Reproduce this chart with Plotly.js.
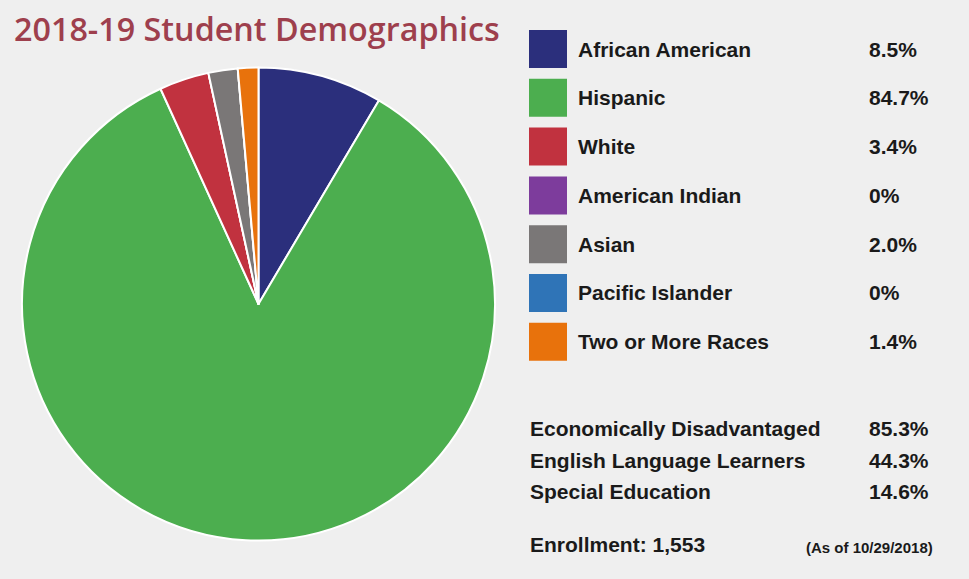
<!DOCTYPE html>
<html>
<head>
<meta charset="utf-8">
<script src="https://cdn.plot.ly/plotly-3.0.1.min.js"></script>
<style>
html,body{margin:0;padding:0;background:#efefef;}
#chart{width:969px;height:579px;}
</style>
</head>
<body>
<div id="chart"></div>
<script>
const title = "2018-19 Student Demographics";
const groups = ["African American", "Hispanic", "White", "American Indian", "Asian", "Pacific Islander", "Two or More Races"];
const shares = [8.5, 84.7, 3.4, 0, 2.0, 0, 1.4];
const colors = ["#2b2f7c", "#4cae4f", "#c1323f", "#7d3c9c", "#7a7777", "#2f74b7", "#e8720c"];
const otherLabels = ["Economically Disadvantaged", "English Language Learners", "Special Education"];
const otherValues = [85.3, 44.3, 14.6];
const enrollment = "1,553";
const asOf = "(As of 10/29/2018)";

const W = 969, H = 579;
const px = x => x / W;
const py = y => 1 - y / H;
const fmt = v => v === 0 ? "0%" : v.toFixed(1) + "%";
const textFont = {family: "Liberation Sans, Arial, sans-serif", size: 21, color: "#1a1a1a"};

const trace = {
  type: "pie",
  labels: groups,
  values: shares,
  marker: {colors: colors, line: {color: "#ffffff", width: 2}},
  sort: false,
  direction: "clockwise",
  rotation: 0,
  textinfo: "none",
  hoverinfo: "none",
  showlegend: false,
  domain: {x: [px(22), px(495)], y: [py(541), py(67)]}
};

const annotations = [];
const shapes = [];
annotations.push({
  xref: "paper", yref: "paper", x: px(12), y: py(28), xanchor: "left", yanchor: "middle",
  text: title, showarrow: false,
  font: {family: "Open Sans, sans-serif", size: 32.3, weight: 600, color: "#9e3f4d"}
});
const rowY0 = 49, rowStep = 48.8;
groups.forEach((g, i) => {
  const cy = rowY0 + i * rowStep;
  shapes.push({
    type: "rect", xref: "paper", yref: "paper",
    x0: px(529), x1: px(567), y0: py(cy + 19), y1: py(cy - 19),
    fillcolor: colors[i], line: {width: 0}
  });
  annotations.push({
    xref: "paper", yref: "paper", x: px(576), y: py(cy), xanchor: "left", yanchor: "middle",
    text: "<b>" + g + "</b>", showarrow: false, font: textFont
  });
  annotations.push({
    xref: "paper", yref: "paper", x: px(867), y: py(cy), xanchor: "left", yanchor: "middle",
    text: "<b>" + fmt(shares[i]) + "</b>", showarrow: false, font: textFont
  });
});
const otherY = [428, 460, 491];
otherLabels.forEach((l, i) => {
  annotations.push({
    xref: "paper", yref: "paper", x: px(528), y: py(otherY[i]), xanchor: "left", yanchor: "middle",
    text: "<b>" + l + "</b>", showarrow: false, font: textFont
  });
  annotations.push({
    xref: "paper", yref: "paper", x: px(867), y: py(otherY[i]), xanchor: "left", yanchor: "middle",
    text: "<b>" + otherValues[i].toFixed(1) + "%</b>", showarrow: false, font: textFont
  });
});
annotations.push({
  xref: "paper", yref: "paper", x: px(528), y: py(544), xanchor: "left", yanchor: "middle",
  text: "<b>Enrollment: " + enrollment + "</b>", showarrow: false, font: textFont
});
annotations.push({
  xref: "paper", yref: "paper", x: px(804), y: py(547), xanchor: "left", yanchor: "middle",
  text: "<b>" + asOf + "</b>", showarrow: false,
  font: {family: "Liberation Sans, Arial, sans-serif", size: 15, color: "#1a1a1a"}
});

const layout = {
  width: W, height: H,
  margin: {l: 0, r: 0, t: 0, b: 0},
  paper_bgcolor: "#efefef",
  plot_bgcolor: "#efefef",
  showlegend: false,
  annotations: annotations,
  shapes: shapes
};
Plotly.newPlot("chart", [trace], layout, {displayModeBar: false, staticPlot: true});
</script>
</body>
</html>
